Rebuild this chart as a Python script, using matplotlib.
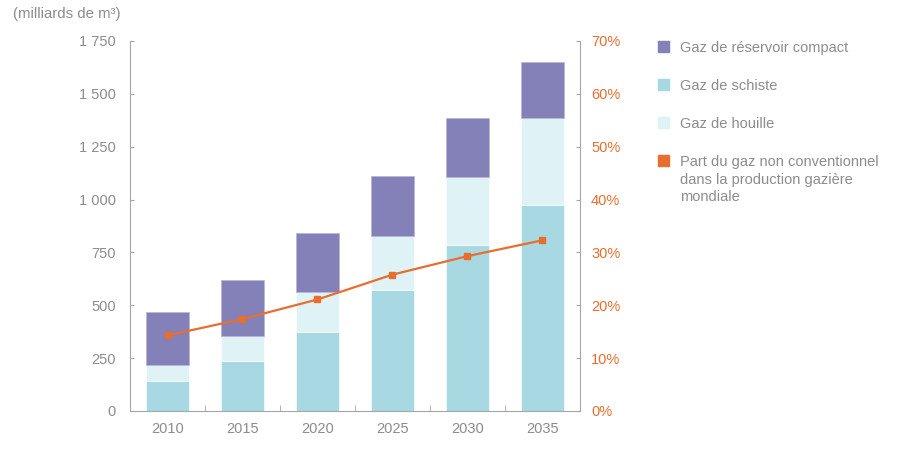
import numpy as np
import matplotlib.pyplot as plt
from matplotlib.patches import Rectangle

plt.rcParams['font.family'] = ['Liberation Sans', 'DejaVu Sans']

years = ['2010', '2015', '2020', '2025', '2030', '2035']
schiste = [143, 238, 372, 572, 784, 973]
houille = [76, 115, 191, 258, 323, 412]
compact = [251, 268, 279, 281, 280, 265]
part = [14.3, 17.4, 21.1, 25.8, 29.3, 32.3]

labels = ['Gaz de réservoir compact', 'Gaz de schiste', 'Gaz de houille',
          'Part du gaz non conventionnel\ndans la production gazière\nmondiale']

c_compact = '#8480b8'
c_schiste = '#a8d8e2'
c_houille = '#dff3f6'
c_orange = '#e86e2e'
gray = '#8c8c8c'
spine = '#a6a6a6'

fig = plt.figure(figsize=(9, 4.5), dpi=100)
ax = fig.add_axes([130 / 900, 1 - 411 / 450, 450 / 900, 370 / 450])

x = np.arange(len(years))
sch = np.array(schiste)
hou = np.array(houille)
com = np.array(compact)
w = 0.57
ax.bar(x, sch, w, color=c_schiste, edgecolor='white', linewidth=0.4)
ax.bar(x, hou, w, bottom=sch, color=c_houille, edgecolor='white', linewidth=0.4)
ax.bar(x, com, w, bottom=sch + hou, color=c_compact, edgecolor='#b9b6d8', linewidth=0.6)

ax.set_xlim(-0.5, 5.5)
ax.set_ylim(0, 1750)
ax.set_yticks(np.arange(0, 1751, 250))
ax.set_yticklabels(['0', '250', '500', '750', '1 000', '1 250', '1 500', '1 750'])
ax.set_xticks(x)
ax.set_xticklabels(years)
ax.set_xticks(np.arange(0.5, 5, 1), minor=True)
ax.tick_params(axis='x', which='major', length=0, pad=8, labelsize=10.5, labelcolor=gray)
ax.tick_params(axis='x', which='minor', direction='in', length=4, color=spine)
ax.tick_params(axis='y', direction='in', length=3, color=spine, pad=10,
               labelsize=10.5, labelcolor=gray)
for s in ['top', 'right']:
    ax.spines[s].set_visible(False)
for s in ['left', 'bottom']:
    ax.spines[s].set_color(spine)

ax2 = ax.twinx()
ax2.plot(x, part, color=c_orange, linewidth=1.6, marker='s', markersize=5)
ax2.set_ylim(0, 70)
ax2.set_yticks(np.arange(0, 71, 10))
ax2.set_yticklabels([f'{v}%' for v in range(0, 71, 10)])
ax2.tick_params(axis='y', direction='in', length=3, color=spine, pad=8,
                labelsize=10.5, labelcolor=c_orange)
for s in ['top', 'left', 'bottom']:
    ax2.spines[s].set_visible(False)
ax2.spines['right'].set_color(spine)

fig.text(13 / 900, 1 - 14 / 450, '(milliards de m³)', fontsize=10.8, color=gray,
         va='center', ha='left')

# legend drawn by hand
colors = [c_compact, c_schiste, c_houille, c_orange]
ys = [47, 85, 123, 161]
for lab, col, yy in zip(labels, colors, ys):
    fig.patches.append(Rectangle((658 / 900, 1 - (yy + 5) / 450), 11 / 900, 11 / 450,
                                 transform=fig.transFigure, color=col))
    fig.text(680 / 900, 1 - (yy - 6) / 450, lab, fontsize=10.5, color=gray,
             va='top', ha='left', linespacing=1.32)

fig.savefig('out.png', dpi=100)
